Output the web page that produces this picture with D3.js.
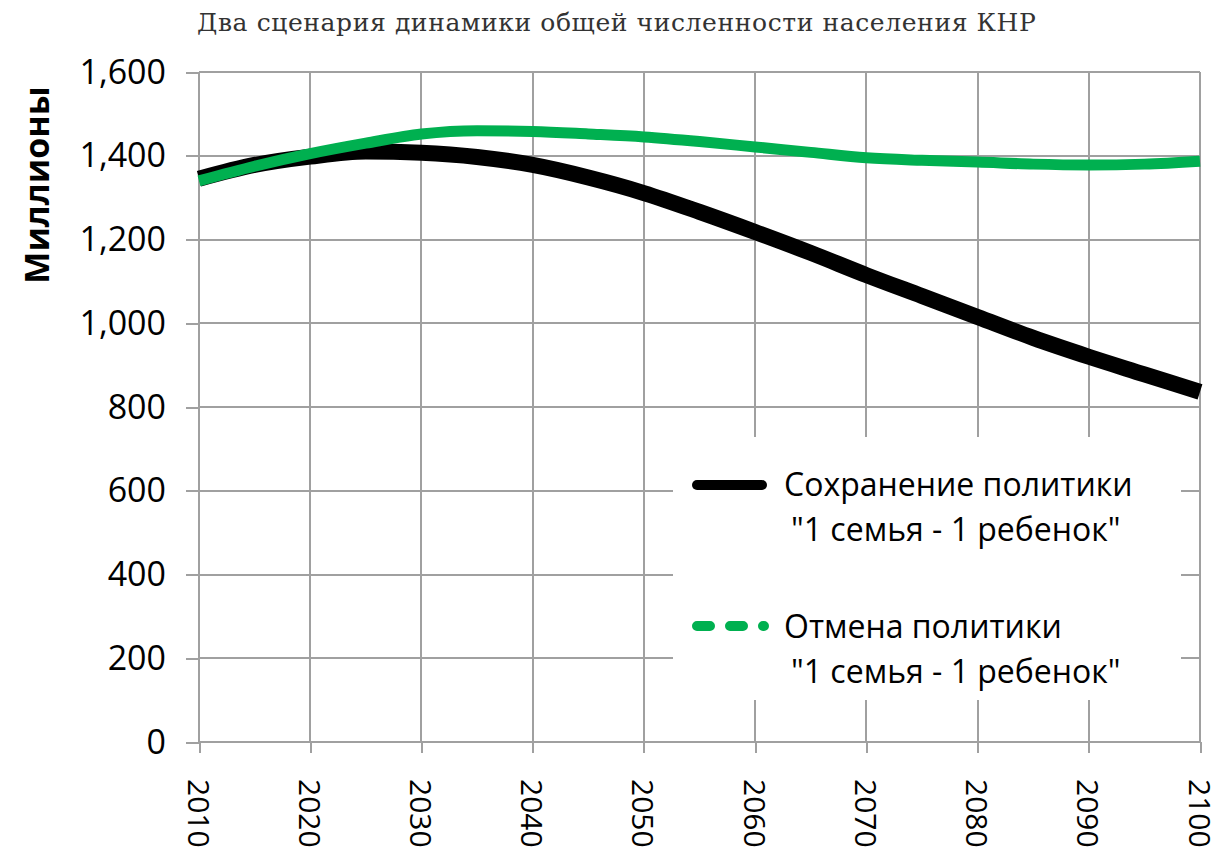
<!DOCTYPE html>
<html>
<head>
<meta charset="utf-8">
<script src="https://cdn.jsdelivr.net/npm/d3@7"></script>
<style>
    body { margin: 0; background: #fff; }
    .grid line { stroke: #a0a0a0; stroke-width: 2; shape-rendering: crispEdges; }
    .axis path, .axis line { stroke: #a0a0a0; stroke-width: 2; shape-rendering: crispEdges; }
    .axis text { font-family: "Open Sans", sans-serif; fill: #000; }
</style>
</head>
<body>
<svg id="chart" width="1217" height="853"></svg>
<script>
// years on the x axis
var years = [2010, 2015, 2020, 2025, 2030, 2035, 2040, 2045, 2050, 2055, 2060,
    2065, 2070, 2075, 2080, 2085, 2090, 2095, 2100];

// population, millions
var keepPolicy = [1345, 1378, 1398, 1410, 1407, 1397, 1378, 1348, 1311, 1266, 1218,
    1168, 1115, 1065, 1015, 965, 920, 878, 836];
var cancelPolicy = [1340, 1375, 1405, 1430, 1452, 1460, 1458, 1452, 1445, 1434, 1421,
    1408, 1395, 1389, 1385, 1380, 1378, 1380, 1387];

var xTicks = [2010, 2020, 2030, 2040, 2050, 2060, 2070, 2080, 2090, 2100];
var yTicks = [0, 200, 400, 600, 800, 1000, 1200, 1400, 1600];

var seriesNames = ["Сохранение политики", "Отмена политики"];
var legendSub = "\"1 семья - 1 ребенок\"";
var title = "Два сценария динамики общей численности населения КНР";
var yTitle = "Миллионы";

function populationChart() {
    var svg = d3.select("#chart");
    svg.selectAll("*").remove();

    var margin = {top: 72, right: 17, bottom: 111, left: 199},
        width = +svg.attr("width") - margin.left - margin.right,
        height = +svg.attr("height") - margin.top - margin.bottom,
        g = svg.append("g").attr("transform", "translate(" + margin.left + "," + margin.top + ")");

    var x = d3.scaleLinear().domain([2010, 2100]).range([0, width]),
        y = d3.scaleLinear().domain([0, 1600]).range([height, 0]);

    // gridlines
    g.append("g")
        .attr("class", "grid")
        .selectAll("line.h")
        .data(yTicks)
        .enter().append("line")
        .attr("x1", 0).attr("x2", width)
        .attr("y1", function (d) { return y(d); })
        .attr("y2", function (d) { return y(d); });

    g.append("g")
        .attr("class", "grid")
        .selectAll("line.v")
        .data(xTicks)
        .enter().append("line")
        .attr("y1", 0).attr("y2", height)
        .attr("x1", function (d) { return x(d); })
        .attr("x2", function (d) { return x(d); });

    var axisX = d3.axisBottom(x)
        .tickValues(xTicks)
        .tickSize(11)
        .tickSizeOuter(0)
        .tickFormat(d3.format("d"));

    var axisY = d3.axisLeft(y)
        .tickValues(yTicks)
        .tickSize(13)
        .tickSizeOuter(0)
        .tickFormat(d3.format(","));

    var gx = g.append("g")
        .attr("class", "axis axis--x")
        .attr("transform", "translate(0," + height + ")")
        .call(axisX);
    gx.select(".domain").remove();
    gx.selectAll("text")
        .style("font-size", "30px")
        .attr("transform", "rotate(90)")
        .attr("x", 37)
        .attr("y", 0)
        .attr("dy", "0.4em")
        .attr("text-anchor", "start");

    var gy = g.append("g")
        .attr("class", "axis axis--y")
        .call(axisY);
    gy.select(".domain").remove();
    gy.selectAll("text")
        .style("font-size", "34px")
        .attr("x", -33)
        .attr("dy", "0.33em");

    var line = d3.line()
        .curve(d3.curveMonotoneX)
        .x(function (d, i) { return x(years[i]); })
        .y(function (d) { return y(d); });

    g.append("path")
        .datum(keepPolicy)
        .attr("fill", "none")
        .attr("stroke", "#000")
        .attr("stroke-width", 16)
        .attr("d", line);

    g.append("path")
        .datum(cancelPolicy)
        .attr("fill", "none")
        .attr("stroke", "#00b050")
        .attr("stroke-width", 11)
        .attr("d", line);

    // legend box sits over the grid
    var lg = svg.append("g");
    lg.append("rect")
        .attr("x", 673).attr("y", 437)
        .attr("width", 508).attr("height", 263)
        .attr("fill", "#fff");

    lg.append("line")
        .attr("x1", 697).attr("x2", 762)
        .attr("y1", 485).attr("y2", 485)
        .attr("stroke", "#000")
        .attr("stroke-width", 10)
        .attr("stroke-linecap", "round");

    lg.append("line")
        .attr("x1", 697).attr("x2", 764)
        .attr("y1", 626).attr("y2", 626)
        .attr("stroke", "#00b050")
        .attr("stroke-width", 10)
        .attr("stroke-linecap", "round")
        .attr("stroke-dasharray", "13,20");

    var legendText = [
        {t: seriesNames[0], x: 784, y: 496},
        {t: legendSub, x: 791, y: 541},
        {t: seriesNames[1], x: 784, y: 638},
        {t: legendSub, x: 791, y: 683}
    ];
    lg.selectAll("text")
        .data(legendText)
        .enter().append("text")
        .attr("x", function (d) { return d.x; })
        .attr("y", function (d) { return d.y; })
        .style("font", "32px 'Open Sans', sans-serif")
        .attr("fill", "#000")
        .text(function (d) { return d.t; });

    svg.append("text")
        .attr("x", 197)
        .attr("y", 31)
        .style("font", "25px 'DejaVu Serif', serif")
        .style("letter-spacing", "0.6px")
        .attr("fill", "#333")
        .text(title);

    svg.append("text")
        .attr("transform", "translate(49,185) rotate(-90)")
        .attr("text-anchor", "middle")
        .style("font", "bold 34px 'Open Sans', sans-serif")
        .attr("fill", "#000")
        .text(yTitle);
}

populationChart();
</script>
</body>
</html>
